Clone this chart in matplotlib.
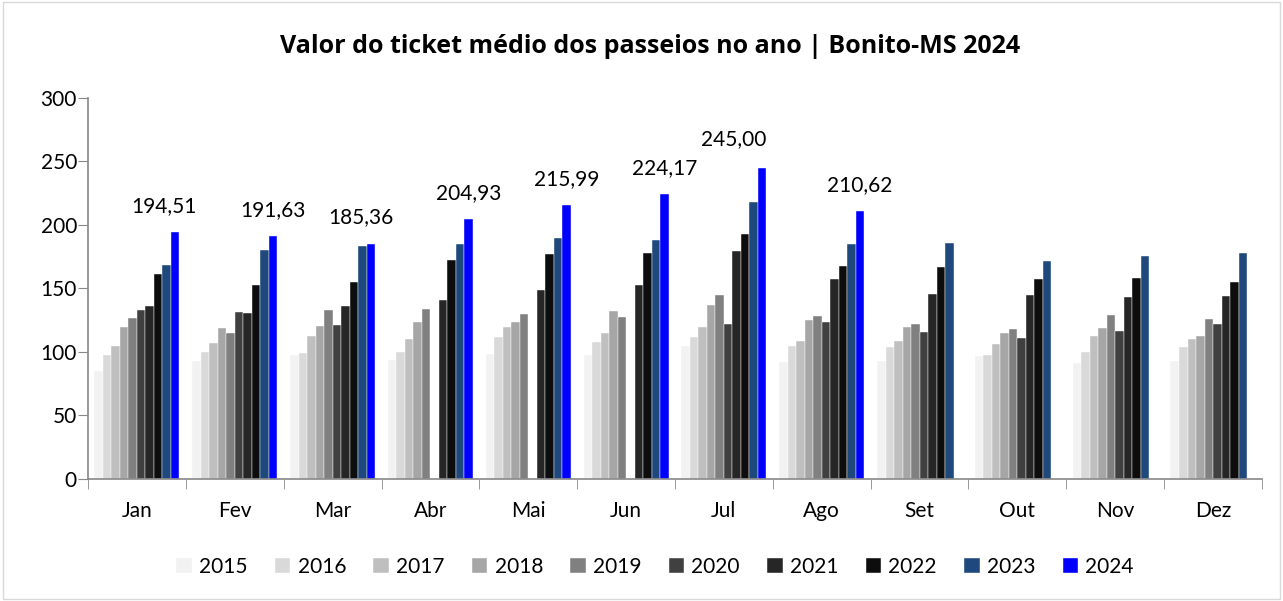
import matplotlib.pyplot as plt
import matplotlib.patches as patches
import numpy as np

# Data
meses = ['Jan', 'Fev', 'Mar', 'Abr', 'Mai', 'Jun', 'Jul', 'Ago', 'Set', 'Out', 'Nov', 'Dez']
anos = ['2015', '2016', '2017', '2018', '2019', '2020', '2021', '2022', '2023', '2024']

v2015 = [85, 92.8, 97.6, 93.4, 98.2, 97.6, 104.8, 92, 93.1, 96.8, 91.2, 92.8]
v2016 = [98, 100.3, 99.2, 99.8, 111.5, 107.5, 111.5, 105.1, 104.3, 97.6, 99.8, 104.3]
v2017 = [104.5, 107.2, 112.3, 110.4, 119.7, 114.9, 119.7, 108.5, 108.8, 106.4, 112.3, 110.4]
v2018 = [120, 119, 120.8, 123.7, 123.7, 132.5, 137, 124.8, 120, 114.6, 118.6, 112.3]
v2019 = [126.4, 115.2, 133.3, 133.8, 130.3, 127.4, 144.7, 128.2, 121.8, 117.8, 129.5, 125.6]
v2020 = [133.3, 131.4, 121, np.nan, np.nan, np.nan, 122.1, 123.7, 116, 111.2, 116.8, 122.4]
v2021 = [136, 130.6, 136.5, 141.2, 148.7, 152.4, 179.3, 157.5, 146, 144.7, 143.6, 144.2]
v2022 = [161.5, 153, 154.8, 172.4, 177.2, 178.2, 192.6, 167.6, 166.8, 157.7, 158, 155.3]
v2023 = [168.4, 180.4, 183.8, 185.4, 189.7, 188.3, 217.9, 185.4, 185.9, 171.6, 175.8, 178]
v2024 = [194.51, 191.63, 185.36, 204.93, 215.99, 224.17, 245.00, 210.62,
         np.nan, np.nan, np.nan, np.nan]

series = [v2015, v2016, v2017, v2018, v2019, v2020, v2021, v2022, v2023, v2024]
cores = ['#F2F2F2', '#D9D9D9', '#BFBFBF', '#A6A6A6', '#808080',
         '#404040', '#262626', '#0D0D0D', '#1F497D', '#0000FF']

# label nudges (pixels) for the 2024 data labels
nudge = {0: (-11, 0), 2: (-10, 0), 6: (-29, 3)}

plt.rcParams['font.family'] = ['Lato', 'DejaVu Sans']

fig = plt.figure(figsize=(12.83, 6.01), dpi=100)
ax = fig.add_axes([0.0686, 0.203, 0.915, 0.634])

x = np.arange(len(meses))
w = 0.087
for j, (ano, vals) in enumerate(zip(anos, series)):
    ax.bar(x + (j - 4.5) * w, vals, width=w, color=cores[j], label=ano,
           edgecolor='white', linewidth=0.3)

# data labels for 2024
for i, v in enumerate(v2024):
    if np.isnan(v):
        continue
    txt = f'{v:.2f}'.replace('.', ',')
    dx, dy = nudge.get(i, (0, 0))
    ax.annotate(txt, (x[i] + 4.5 * w, v), xytext=(dx, 16 + dy),
                textcoords='offset pixels', ha='center', va='bottom', fontsize=15)

ax.set_xlim(-0.5, len(meses) - 0.5)
ax.set_ylim(0, 300)
ax.set_yticks(range(0, 301, 50))
ax.set_xticks(x)
ax.set_xticklabels(meses)
ax.set_xticks(np.arange(-0.5, len(meses)), minor=True)
ax.tick_params(axis='x', which='major', length=0, labelsize=15, pad=16)
ax.tick_params(axis='x', which='minor', length=7, color='#888888', direction='out')
ax.tick_params(axis='y', length=7, color='#888888', labelsize=15, pad=1)

for s in ['top', 'right']:
    ax.spines[s].set_visible(False)
for s in ['left', 'bottom']:
    ax.spines[s].set_color('#888888')
    ax.spines[s].set_linewidth(1.2)

fig.text(0.507, 0.922, 'Valor do ticket médio dos passeios no ano | Bonito-MS 2024',
         ha='center', va='center', fontsize=18, fontweight='bold',
         family=['Open Sans', 'DejaVu Sans'])

ax.legend(loc='upper center', bbox_to_anchor=(0.483, -0.155), ncol=10, frameon=False,
          fontsize=15, handlelength=0.75, handleheight=0.75, handletextpad=0.35,
          columnspacing=1.3)

# chart border
fig.patches.append(patches.Rectangle((0.002, 0.003), 0.996, 0.994, transform=fig.transFigure,
                                     fill=False, edgecolor='#D9D9D9', linewidth=1))

plt.savefig('out.png', dpi=100)
